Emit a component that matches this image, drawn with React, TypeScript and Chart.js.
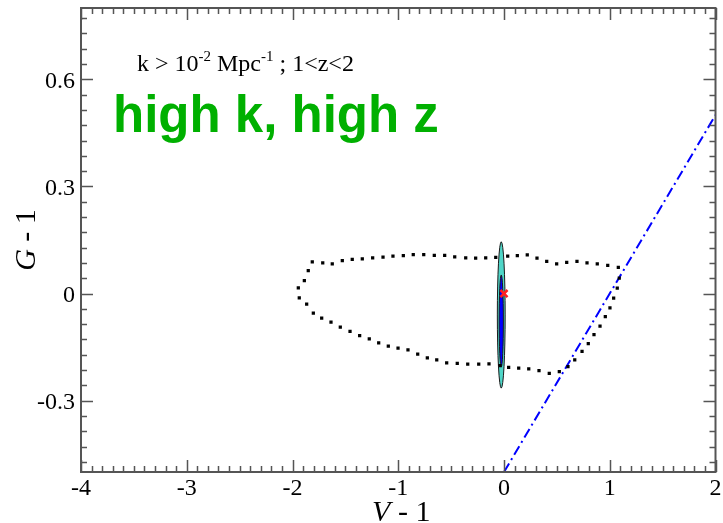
import { useEffect, useRef } from 'react';
import { Chart, registerables } from 'chart.js';

Chart.register(...registerables);

// ---- data ----
const xTicks = [-4, -3, -2, -1, 0, 1, 2];
const xTickLabels = ['-4', '-3', '-2', '-1', '0', '1', '2'];
const yTicks = [-0.3, 0, 0.3, 0.6];
const yTickLabels = ['-0.3', '0', '0.3', '0.6'];

const contourX = [
  -1.813, -1.714, -1.624, -1.529, -1.435, -1.34, -1.242, -1.144, -1.05, -0.952, -0.858, -0.759,
  -0.659, -0.561, -0.466, -0.362, -0.268, -0.173, -0.078, 0.035, 0.126, 0.22, 0.312, 0.404,
  0.498, 0.593, 0.69, 0.785, 0.882, 0.981, 1.081,
  1.09, 1.071, 1.037, 1.002, 0.958, 0.908, 0.851, 0.797, 0.738, 0.669, 0.605,
  0.523, 0.428, 0.331, 0.234, 0.139, 0.044, -0.038, -0.142, -0.239, -0.343, -0.442, -0.542,
  -0.636, -0.725, -0.816, -0.908, -1.002, -1.094, -1.185, -1.274, -1.365, -1.456, -1.548,
  -1.636, -1.724, -1.803, -1.866, -1.936, -1.945, -1.888, -1.851,
];
const contourY = [
  0.089, 0.086, 0.083, 0.092, 0.096, 0.097, 0.1, 0.102, 0.105, 0.106, 0.109, 0.109,
  0.107, 0.107, 0.103, 0.1, 0.099, 0.1, 0.101, 0.105, 0.106, 0.108, 0.099, 0.09,
  0.083, 0.087, 0.09, 0.086, 0.083, 0.079, 0.073,
  0.043, 0.015, -0.013, -0.04, -0.065, -0.091, -0.115, -0.14, -0.162, -0.186, -0.205,
  -0.219, -0.224, -0.216, -0.211, -0.209, -0.207, -0.202, -0.197, -0.198, -0.198, -0.196, -0.194,
  -0.186, -0.18, -0.17, -0.158, -0.153, -0.147, -0.138, -0.127, -0.118, -0.106, -0.094,
  -0.08, -0.069, -0.055, -0.03, -0.012, 0.016, 0.036, 0.064,
];

const lineX = [0, 2];
const lineY = [-0.5, 0.5];

const markerX = [0];
const markerY = [0];

// ellipses: [outer, inner]
const ellipseCX = [-0.026, -0.026];
const ellipseCY = [-0.06, -0.077];
const ellipseRX = [0.037, 0.02];
const ellipseRY = [0.205, 0.129];
const ellipseFill = ['#4fd6c8', '#0000ff'];

const X_MIN = -4, X_MAX = 2, Y_MIN = -0.5, Y_MAX = 0.8;

const SERIF = '"Liberation Serif", "DejaVu Serif", serif';

const ellipsePlugin = {
  id: 'ellipses',
  beforeDatasetsDraw(chart: any) {
    const { ctx, chartArea: a, scales } = chart;
    const x = scales.x, y = scales.y;
    ctx.save();
    ctx.beginPath();
    ctx.rect(a.left, a.top, a.right - a.left, a.bottom - a.top);
    ctx.clip();
    for (let i = 0; i < ellipseCX.length; i++) {
      const cx = x.getPixelForValue(ellipseCX[i]);
      const cy = y.getPixelForValue(ellipseCY[i]);
      const rx = Math.abs(x.getPixelForValue(ellipseCX[i] + ellipseRX[i]) - cx);
      const ry = Math.abs(y.getPixelForValue(ellipseCY[i] + ellipseRY[i]) - cy);
      ctx.beginPath();
      ctx.ellipse(cx, cy, rx, ry, 0, 0, Math.PI * 2);
      ctx.fillStyle = ellipseFill[i];
      ctx.fill();
      ctx.lineWidth = 1;
      ctx.strokeStyle = '#1a1a1a';
      ctx.stroke();
    }
    ctx.restore();
  },
};

const framePlugin = {
  id: 'frame',
  afterDraw(chart: any) {
    const { ctx, chartArea: a, scales } = chart;
    const x = scales.x, y = scales.y;
    ctx.save();
    ctx.strokeStyle = '#555555';
    ctx.lineWidth = 1.5;
    const MAJ = 12, MIN = 6;
    ctx.beginPath();
    for (let k = -40; k <= 20; k++) {
      const px = Math.round(x.getPixelForValue(k / 10)) + 0.5;
      const len = k % 10 === 0 ? MAJ : MIN;
      ctx.moveTo(px, a.bottom);
      ctx.lineTo(px, a.bottom - len);
      ctx.moveTo(px, a.top);
      ctx.lineTo(px, a.top + len);
    }
    const step = 0.3 / 7;
    for (let k = Math.ceil(Y_MIN / step); k <= Math.floor(Y_MAX / step); k++) {
      const py = Math.round(y.getPixelForValue(k * step)) + 0.5;
      const len = k % 7 === 0 ? MAJ : MIN;
      ctx.moveTo(a.left, py);
      ctx.lineTo(a.left + len, py);
      ctx.moveTo(a.right, py);
      ctx.lineTo(a.right - len, py);
    }
    ctx.stroke();
    ctx.lineWidth = 2;
    ctx.strokeRect(a.left, a.top, a.right - a.left, a.bottom - a.top);

    // tick labels
    ctx.fillStyle = '#000';
    ctx.font = `24px ${SERIF}`;
    ctx.textBaseline = 'alphabetic';
    ctx.textAlign = 'center';
    xTicks.forEach((v, i) => {
      ctx.fillText(xTickLabels[i], x.getPixelForValue(v), a.bottom + 23);
    });
    ctx.textAlign = 'right';
    yTicks.forEach((v, i) => {
      ctx.fillText(yTickLabels[i], a.left - 6, y.getPixelForValue(v) + 8.5);
    });

    // axis titles
    const drawMixed = (parts: [string, string][], cx: number, base: number) => {
      let w = 0;
      for (const [f, t] of parts) { ctx.font = f; w += ctx.measureText(t).width; }
      let sx = cx - w / 2;
      ctx.textAlign = 'left';
      for (const [f, t] of parts) { ctx.font = f; ctx.fillText(t, sx, base); sx += ctx.measureText(t).width; }
    };
    const cxA = (a.left + a.right) / 2 + 3;
    drawMixed([[`italic 30px ${SERIF}`, 'V'], [`30px ${SERIF}`, ' - 1']], cxA, 521);
    ctx.save();
    ctx.translate(35, (a.top + a.bottom) / 2);
    ctx.rotate(-Math.PI / 2);
    drawMixed([[`italic 30px ${SERIF}`, 'G'], [`30px ${SERIF}`, ' - 1']], 0, 0);
    ctx.restore();

    // annotation text
    let tx = 137;
    const base = 71;
    const parts: [number, string, number][] = [
      [24, 'k > 10', 0], [15, '-2', -10], [24, ' Mpc', 0], [15, '-1', -10], [24, ' ; 1<z<2', 0],
    ];
    ctx.textAlign = 'left';
    for (const [sz, t, dy] of parts) {
      ctx.font = `${sz}px ${SERIF}`;
      ctx.fillText(t, tx, base + dy);
      tx += ctx.measureText(t).width;
    }
    ctx.font = 'bold 51px "Liberation Sans", Arial, sans-serif';
    ctx.fillStyle = '#00b000';
    ctx.fillText('high k, high z', 113, 132);
    ctx.restore();
  },
};

export default function App() {
  const ref = useRef<HTMLCanvasElement | null>(null);
  useEffect(() => {
    document.body.style.margin = '0';
    const canvas = ref.current!;
    const chart = new Chart(canvas, {
      type: 'scatter',
      data: {
        datasets: [
          {
            label: 'contour',
            data: contourX.map((v, i) => ({ x: v, y: contourY[i] })),
            showLine: false,
            pointRadius: 2.3,
            pointStyle: 'rect',
            backgroundColor: '#000',
            borderColor: '#000',
            borderWidth: 0,
          },
          {
            label: 'line',
            data: lineX.map((v, i) => ({ x: v, y: lineY[i] })),
            showLine: true,
            pointRadius: 0,
            borderColor: '#0000ff',
            borderWidth: 2,
            borderDash: [10, 4, 2, 4],
          },
          {
            label: 'marker',
            data: markerX.map((v, i) => ({ x: v, y: markerY[i] })),
            showLine: false,
            pointStyle: 'crossRot',
            pointRadius: 5,
            borderColor: '#ff2020',
            borderWidth: 2.5,
          },
        ],
      },
      options: {
        animation: false,
        responsive: false,
        devicePixelRatio: 1,
        layout: { padding: { top: 8, right: 7, left: 0, bottom: 0 } },
        plugins: { legend: { display: false }, tooltip: { enabled: false } },
        scales: {
          x: {
            type: 'linear',
            min: X_MIN,
            max: X_MAX,
            afterBuildTicks: (s: any) => { s.ticks = xTicks.map((v) => ({ value: v })); },
            afterFit: (s: any) => { s.height = 51; s.paddingLeft = 0; s.paddingRight = 0; },
            grid: { display: false, drawTicks: false },
            border: { display: false },
            ticks: { display: false },
          },
          y: {
            type: 'linear',
            min: Y_MIN,
            max: Y_MAX,
            afterBuildTicks: (s: any) => { s.ticks = yTicks.map((v) => ({ value: v })); },
            afterFit: (s: any) => { s.width = 81; s.paddingTop = 0; s.paddingBottom = 0; },
            grid: { display: false, drawTicks: false },
            border: { display: false },
            ticks: { display: false },
          },
        },
      },
      plugins: [ellipsePlugin, framePlugin],
    });
    return () => chart.destroy();
  }, []);
  return (
    <div style={{ width: 723, height: 523 }}>
      <canvas ref={ref} width={723} height={523} style={{ display: 'block' }} />
    </div>
  );
}
